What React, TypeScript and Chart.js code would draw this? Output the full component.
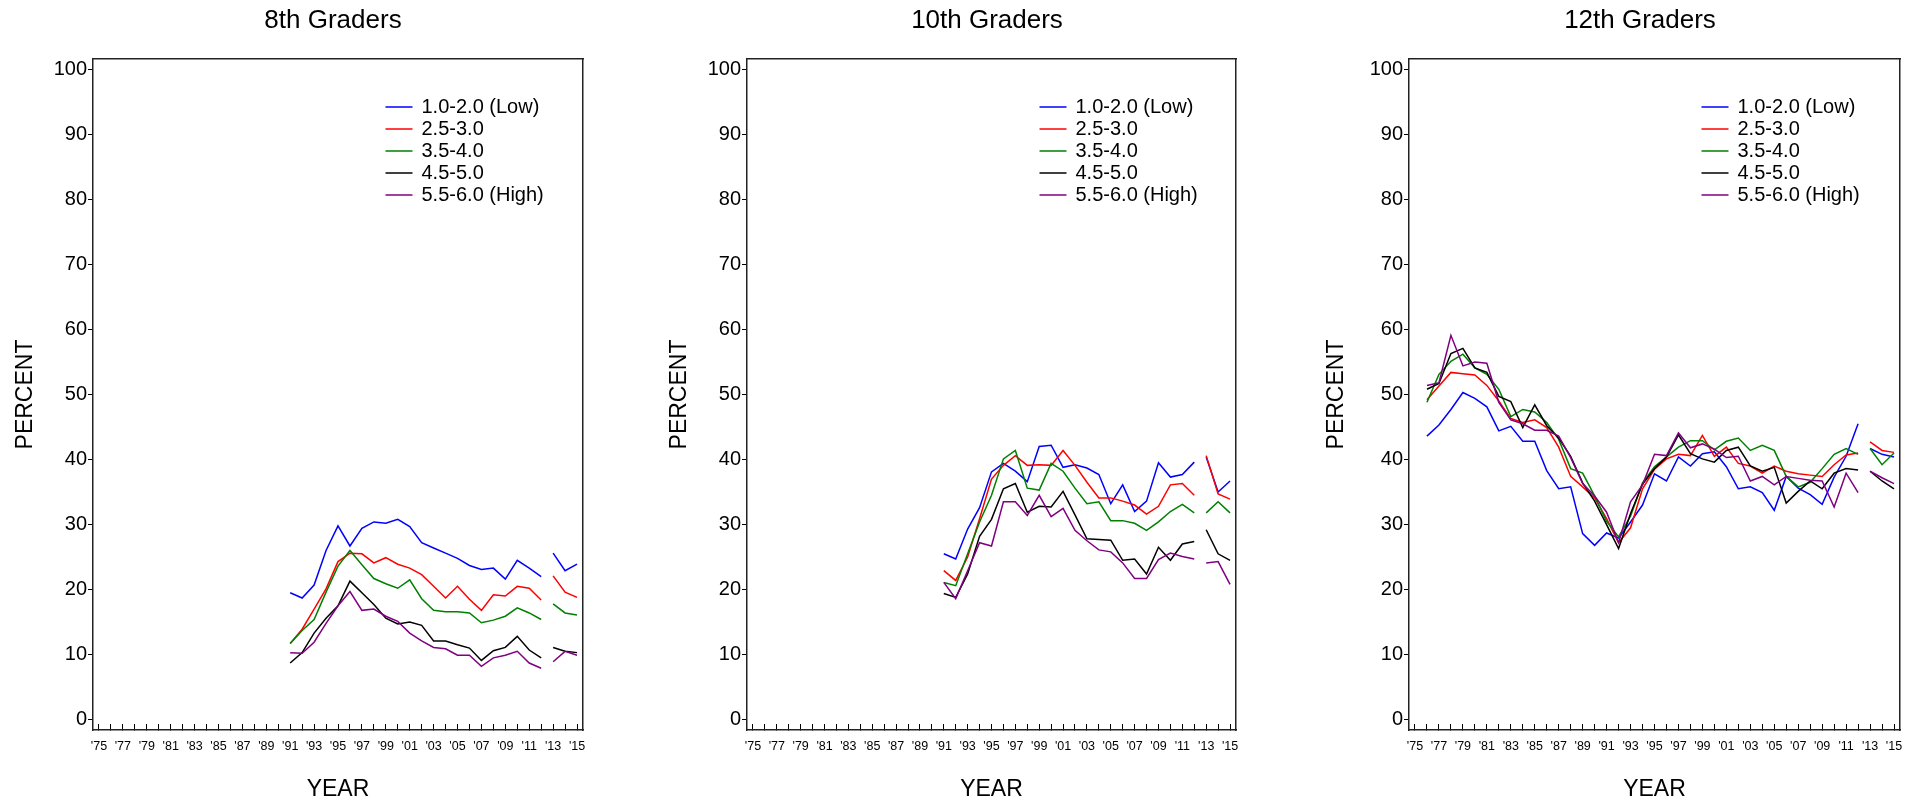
import React, { useEffect, useRef } from 'react';
import { Chart, registerables } from 'chart.js';

Chart.register(...registerables);

// ---------- data ----------
const SERIES_LABELS = ['1.0-2.0 (Low)', '2.5-3.0', '3.5-4.0', '4.5-5.0', '5.5-6.0 (High)'];
const SERIES_COLORS = ['#0000ff', '#ff0000', '#008000', '#000000', '#800080'];

const X_TICK_YEARS = [
  1975, 1976, 1977, 1978, 1979, 1980, 1981, 1982, 1983, 1984, 1985, 1986, 1987, 1988,
  1989, 1990, 1991, 1992, 1993, 1994, 1995, 1996, 1997, 1998, 1999, 2000, 2001, 2002,
  2003, 2004, 2005, 2006, 2007, 2008, 2009, 2010, 2011, 2012, 2013, 2014, 2015,
];
const X_LABEL_YEARS = [
  1975, 1977, 1979, 1981, 1983, 1985, 1987, 1989, 1991, 1993, 1995, 1997, 1999, 2001,
  2003, 2005, 2007, 2009, 2011, 2013, 2015,
];
const X_TICK_LABELS = [
  "'75", "'77", "'79", "'81", "'83", "'85", "'87", "'89", "'91", "'93", "'95", "'97",
  "'99", "'01", "'03", "'05", "'07", "'09", "'11", "'13", "'15",
];
const Y_TICKS = [0, 10, 20, 30, 40, 50, 60, 70, 80, 90, 100];

// the line is broken between these two survey years
const BREAK_AFTER = 2012;
const BREAK_BEFORE = 2013;

const YEARS_8_10 = [
  1991, 1992, 1993, 1994, 1995, 1996, 1997, 1998, 1999, 2000, 2001, 2002, 2003, 2004,
  2005, 2006, 2007, 2008, 2009, 2010, 2011, 2012, 2013, 2014, 2015,
];
const YEARS_12 = [
  1976, 1977, 1978, 1979, 1980, 1981, 1982, 1983, 1984, 1985, 1986, 1987, 1988, 1989,
  1990, 1991, 1992, 1993, 1994, 1995, 1996, 1997, 1998, 1999, 2000, 2001, 2002, 2003,
  2004, 2005, 2006, 2007, 2008, 2009, 2010, 2011, 2012, 2013, 2014, 2015,
];

// 8th graders, 1991-2015
const G8_LOW = [19.5, 18.7, 20.7, 26.0, 29.8, 26.7, 29.4, 30.4, 30.2, 30.8, 29.7, 27.2, 26.4, 25.6, 24.8, 23.7, 23.1, 23.3, 21.6, 24.5, 23.3, 22.0, 25.6, 22.9, 23.9];
const G8_25 = [11.7, 13.9, 17.0, 20.1, 24.3, 25.6, 25.5, 24.1, 24.9, 23.9, 23.3, 22.3, 20.5, 18.7, 20.5, 18.5, 16.8, 19.2, 19.0, 20.5, 20.2, 18.4, 22.1, 19.6, 18.8];
const G8_35 = [11.7, 13.7, 15.4, 19.6, 23.6, 26.0, 23.8, 21.7, 20.9, 20.2, 21.5, 18.6, 16.8, 16.6, 16.6, 16.4, 14.9, 15.3, 15.9, 17.2, 16.4, 15.4, 17.8, 16.4, 16.1];
const G8_45 = [8.7, 10.3, 13.3, 15.6, 17.5, 21.3, 19.5, 17.7, 15.6, 14.7, 15.0, 14.5, 12.1, 12.1, 11.5, 11.0, 9.1, 10.6, 11.1, 12.8, 10.7, 9.5, 11.1, 10.5, 10.3];
const G8_HIGH = [10.3, 10.2, 11.9, 14.8, 17.5, 19.7, 16.8, 17.0, 15.9, 15.1, 13.3, 12.1, 11.1, 10.9, 9.9, 9.9, 8.2, 9.5, 9.9, 10.5, 8.7, 7.9, 8.9, 10.5, 9.9];

// 10th graders, 1991-2015
const G10_LOW = [25.5, 24.7, 29.3, 32.6, 38.1, 39.4, 38.2, 36.6, 42.0, 42.2, 38.8, 39.2, 38.7, 37.7, 33.2, 36.1, 32.0, 33.6, 39.5, 37.3, 37.7, 39.6, 40.4, 35.0, 36.7];
const G10_25 = [22.9, 21.4, 25.0, 30.9, 37.0, 39.1, 40.6, 39.1, 39.2, 39.1, 41.4, 39.1, 36.5, 34.1, 34.1, 33.6, 33.0, 31.6, 32.8, 36.1, 36.3, 34.5, 40.6, 34.7, 33.9];
const G10_35 = [21.1, 20.6, 25.5, 30.4, 34.5, 40.1, 41.4, 35.6, 35.3, 39.4, 38.2, 35.6, 33.2, 33.5, 30.6, 30.6, 30.2, 29.1, 30.4, 32.0, 33.1, 31.8, 31.8, 33.5, 31.8];
const G10_45 = [19.4, 18.8, 22.4, 28.2, 30.8, 35.5, 36.3, 31.9, 32.8, 32.7, 35.1, 31.5, 27.8, 27.7, 27.6, 24.5, 24.7, 22.4, 26.5, 24.5, 27.0, 27.4, 29.2, 25.5, 24.5];
const G10_HIGH = [21.1, 18.6, 22.9, 27.2, 26.7, 33.5, 33.5, 31.4, 34.5, 31.2, 32.5, 29.1, 27.5, 26.1, 25.8, 24.1, 21.7, 21.7, 24.6, 25.6, 25.1, 24.7, 24.1, 24.3, 20.8];

// 12th graders, 1976-2015
const G12_LOW = [43.6, 45.3, 47.7, 50.3, 49.4, 48.1, 44.4, 45.1, 42.8, 42.8, 38.3, 35.5, 35.8, 28.6, 26.8, 28.7, 27.9, 30.4, 33.0, 37.8, 36.7, 40.4, 39.0, 40.9, 41.2, 38.9, 35.5, 35.8, 34.9, 32.2, 37.4, 35.6, 34.6, 33.1, 37.3, 40.5, 45.5, 41.7, 40.8, 40.4];
const G12_25 = [49.2, 51.3, 53.4, 53.2, 53.0, 51.4, 49.0, 46.3, 45.7, 46.1, 44.9, 41.9, 37.4, 35.8, 34.1, 30.9, 27.2, 29.5, 35.5, 38.5, 40.1, 40.8, 40.6, 43.7, 40.5, 41.9, 39.4, 39.0, 37.9, 39.0, 38.2, 37.8, 37.6, 37.4, 39.2, 40.7, 41.0, 42.7, 41.4, 41.1];
const G12_35 = [48.8, 53.1, 55.1, 56.2, 54.1, 53.1, 50.8, 46.6, 47.7, 47.3, 45.7, 43.1, 38.6, 37.9, 34.4, 30.5, 28.1, 31.3, 36.4, 38.9, 40.4, 41.9, 42.9, 42.9, 41.5, 42.8, 43.3, 41.4, 42.2, 41.4, 37.4, 35.8, 36.5, 38.6, 40.8, 41.7, 40.8, 41.7, 39.2, 41.0];
const G12_45 = [50.8, 51.7, 56.3, 57.1, 54.1, 53.4, 49.7, 48.9, 44.9, 48.4, 45.2, 43.3, 40.5, 36.4, 33.6, 30.0, 26.3, 31.7, 36.2, 38.6, 40.4, 43.8, 40.9, 40.1, 39.6, 41.4, 41.9, 39.0, 38.2, 38.8, 33.3, 35.1, 36.7, 35.5, 37.9, 38.6, 38.4, 38.2, 36.7, 35.5];
const G12_HIGH = [51.4, 51.8, 59.1, 54.4, 55.0, 54.8, 48.8, 46.1, 45.5, 44.5, 44.5, 43.6, 40.3, 36.3, 34.4, 31.9, 27.2, 33.5, 36.1, 40.8, 40.6, 44.1, 41.8, 42.4, 41.6, 40.3, 40.5, 36.7, 37.4, 36.1, 37.4, 37.1, 36.8, 36.7, 32.7, 37.9, 34.9, 38.2, 37.2, 36.3];

const PANEL_TITLES = ['8th Graders', '10th Graders', '12th Graders'];
const X_TITLE = 'YEAR';
const Y_TITLE = 'PERCENT';

// ---------- layout / style ----------
const FONT = 'Arial, "Liberation Sans", sans-serif';
const CANVAS_W = 666;
const CANVAS_H = 802;
const AREA_TOP = 59;
const AREA_BOTTOM = 730;
const X_MIN = 1974.5;
const X_MAX = 2015.5;
const Y_MIN = -1.6;
const Y_MAX = 101.6;
const X_TICK_FONT = 12.5;

const LAYOUTS = [
  { canvasLeft: 0, areaLeft: 93, areaRight: 583, yTitlePad: 12.2 },
  { canvasLeft: 654, areaLeft: 93, areaRight: 582, yTitlePad: 12.2 },
  { canvasLeft: 1307, areaLeft: 102, areaRight: 593, yTitlePad: 16.2 },
];

const PANEL_DATA = [
  { years: YEARS_8_10, series: [G8_LOW, G8_25, G8_35, G8_45, G8_HIGH] },
  { years: YEARS_8_10, series: [G10_LOW, G10_25, G10_35, G10_45, G10_HIGH] },
  { years: YEARS_12, series: [G12_LOW, G12_25, G12_35, G12_45, G12_HIGH] },
];

function buildPoints(years: number[], values: number[]) {
  const pts: { x: number; y: number | null }[] = [];
  years.forEach((yr, i) => {
    if (yr === BREAK_BEFORE && years.includes(BREAK_AFTER)) {
      pts.push({ x: (BREAK_AFTER + BREAK_BEFORE) / 2, y: null });
    }
    pts.push({ x: yr, y: values[i] });
  });
  return pts;
}

const insideLegend = {
  id: 'insideLegend',
  afterDatasetsDraw(chart: any) {
    const { ctx, chartArea } = chart;
    const x0 = chartArea.left + 292.5;
    ctx.save();
    ctx.font = `20px ${FONT}`;
    ctx.textBaseline = 'middle';
    ctx.textAlign = 'left';
    chart.data.datasets.forEach((ds: any, i: number) => {
      const y = chartArea.top + 48 + i * 22;
      ctx.strokeStyle = ds.borderColor;
      ctx.lineWidth = 1.5;
      ctx.beginPath();
      ctx.moveTo(x0, y);
      ctx.lineTo(x0 + 27, y);
      ctx.stroke();
      ctx.fillStyle = '#000';
      ctx.fillText(ds.label, x0 + 36, y);
    });
    ctx.restore();
  },
};

const BORDER = { display: true, color: '#222', width: 1.5 };

function Panel({ index }: { index: number }) {
  const ref = useRef<HTMLCanvasElement | null>(null);
  const lay = LAYOUTS[index];
  useEffect(() => {
    const pd = PANEL_DATA[index];
    const datasets = pd.series.map((vals, si) => ({
      label: SERIES_LABELS[si],
      data: buildPoints(pd.years, vals),
      borderColor: SERIES_COLORS[si],
      backgroundColor: SERIES_COLORS[si],
      borderWidth: 1.5,
      pointRadius: 0,
      pointHoverRadius: 0,
      tension: 0,
      spanGaps: false,
      fill: false,
      order: SERIES_LABELS.length - si,
    }));
    const chart = new Chart(ref.current as HTMLCanvasElement, {
      type: 'line',
      data: { datasets },
      plugins: [insideLegend],
      options: {
        responsive: false,
        animation: false,
        events: [],
        font: { family: FONT },
        layout: { padding: 0 },
        plugins: {
          legend: { display: false },
          tooltip: { enabled: false },
          title: {
            display: true,
            text: PANEL_TITLES[index],
            color: '#000',
            font: { family: FONT, size: 26, weight: 'normal', lineHeight: 1.2 },
            padding: { top: 5, bottom: AREA_TOP - 5 - 26 * 1.2 },
          },
        },
        scales: {
          x: {
            type: 'linear',
            position: 'bottom',
            min: X_MIN,
            max: X_MAX,
            afterBuildTicks: (s: any) => {
              s.ticks = X_TICK_YEARS.map((v) => ({ value: v }));
            },
            afterFit: (s: any) => {
              s.height = CANVAS_H - AREA_BOTTOM;
            },
            ticks: {
              autoSkip: false,
              maxRotation: 0,
              minRotation: 0,
              padding: 747 - (AREA_BOTTOM - 6) - 0.6 * X_TICK_FONT,
              color: '#000',
              font: { family: FONT, size: X_TICK_FONT },
              callback: (v: any) => {
                const k = X_LABEL_YEARS.indexOf(Number(v));
                return k >= 0 ? X_TICK_LABELS[k] : '';
              },
            },
            grid: {
              drawOnChartArea: false,
              drawTicks: true,
              tickLength: -6,
              color: '#000',
              tickColor: '#000',
              lineWidth: 1,
            },
            border: BORDER,
            title: {
              display: true,
              text: X_TITLE,
              color: '#000',
              font: { family: FONT, size: 23, lineHeight: 1.2 },
              padding: { top: 0, bottom: -1 },
            },
          },
          y: {
            type: 'linear',
            position: 'left',
            min: Y_MIN,
            max: Y_MAX,
            afterBuildTicks: (s: any) => {
              s.ticks = Y_TICKS.map((v) => ({ value: v }));
            },
            afterFit: (s: any) => {
              s.width = lay.areaLeft;
            },
            ticks: {
              padding: 1,
              color: '#000',
              font: { family: FONT, size: 20 },
              callback: (v: any) => String(v),
            },
            grid: {
              drawOnChartArea: false,
              drawTicks: true,
              tickLength: 5,
              color: '#000',
              tickColor: '#000',
              lineWidth: 1,
            },
            border: BORDER,
            title: {
              display: true,
              text: Y_TITLE,
              color: '#000',
              font: { family: FONT, size: 23, lineHeight: 1.2 },
              padding: { top: lay.yTitlePad, bottom: 0 },
            },
          },
          xTop: {
            type: 'linear',
            position: 'top',
            ticks: { display: false },
            grid: { drawOnChartArea: false, drawTicks: false },
            border: BORDER,
            afterFit: (s: any) => {
              s.height = 0;
            },
          },
          yRight: {
            type: 'linear',
            position: 'right',
            ticks: { display: false },
            grid: { drawOnChartArea: false, drawTicks: false },
            border: BORDER,
            afterFit: (s: any) => {
              s.width = CANVAS_W - lay.areaRight;
            },
          },
        },
      } as any,
    });
    return () => chart.destroy();
  }, [index]);
  return (
    <canvas
      ref={ref}
      width={CANVAS_W}
      height={CANVAS_H}
      style={{ position: 'absolute', left: lay.canvasLeft, top: 0, width: CANVAS_W, height: CANVAS_H }}
    />
  );
}

export default function App() {
  return (
    <div
      style={{
        position: 'absolute',
        left: 0,
        top: 0,
        width: 1917,
        height: 802,
        overflow: 'hidden',
        background: '#fff',
      }}
    >
      <Panel index={0} />
      <Panel index={1} />
      <Panel index={2} />
    </div>
  );
}
